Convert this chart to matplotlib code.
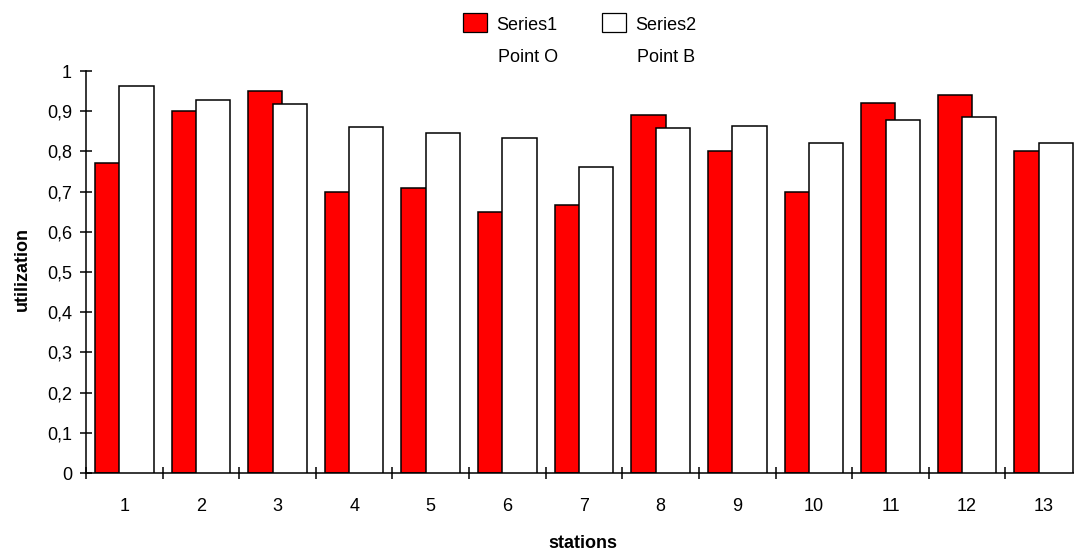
import numpy as np
import matplotlib
matplotlib.use("Agg")
import matplotlib.pyplot as plt
from matplotlib.patches import Rectangle

plt.rcParams['font.family'] = ['Liberation Sans', 'DejaVu Sans']

stations = [str(i) for i in range(1, 14)]
series1 = [0.77, 0.90, 0.95, 0.70, 0.71, 0.65, 0.667, 0.89, 0.80, 0.70, 0.92, 0.94, 0.80]
series2 = [0.963, 0.928, 0.917, 0.861, 0.847, 0.833, 0.761, 0.858, 0.864, 0.822, 0.879, 0.885, 0.820]
yticks = [0, 0.1, 0.2, 0.3, 0.4, 0.5, 0.6, 0.7, 0.8, 0.9, 1]

W, H = 1074, 552
fig = plt.figure(figsize=(W / 100, H / 100), dpi=100)
ax = fig.add_axes([86 / W, (H - 473) / H, (1082 - 86) / W, 402 / H])

x = np.arange(len(stations))
bw = 0.447
ax.bar(x - 0.383, series1, width=bw, align='edge', color='#ff0000',
       edgecolor='black', linewidth=1.1, zorder=2)
ax.bar(x + 0.383 - bw, series2, width=bw, align='edge', color='white',
       edgecolor='black', linewidth=1.1, zorder=3)

ax.set_xlim(-0.5, len(stations) - 0.5)
ax.set_ylim(0, 1)
ax.spines['top'].set_visible(False)
ax.spines['right'].set_visible(False)
for s in ('left', 'bottom'):
    ax.spines[s].set_linewidth(1.1)

ax.set_yticks(yticks)
ax.set_yticklabels([('%g' % v).replace('.', ',') for v in yticks])
ax.tick_params(axis='y', direction='inout', length=9, width=1.1, pad=5.5, labelsize=13)

ax.set_xticks(x)
ax.set_xticklabels(stations)
ax.set_xticks(np.arange(len(stations)) - 0.5, minor=True)
ax.tick_params(axis='x', which='major', length=0, pad=18, labelsize=13)
ax.tick_params(axis='x', which='minor', direction='inout', length=9, width=1.1)

fig.text(583 / W, 1 - 543 / H, 'stations', ha='center', va='center',
         fontsize=13, fontweight='bold')
fig.text(22 / W, 1 - 269 / H, 'utilization', ha='center', va='center',
         rotation=90, fontsize=13, fontweight='bold')

# legend
for x0, fc, name, sub in [(463, '#ff0000', 'Series1', 'Point O'),
                          (602, 'white', 'Series2', 'Point B')]:
    fig.add_artist(Rectangle((x0 / W, 1 - 32 / H), 24 / W, 19 / H,
                             transform=fig.transFigure, facecolor=fc,
                             edgecolor='black', linewidth=0.9))
    fig.text((x0 + 33) / W, 1 - 26 / H, name, ha='left', va='center', fontsize=13)
    fig.text((x0 + 35) / W, 1 - 58 / H, sub, ha='left', va='center', fontsize=13)

fig.savefig('out.png', dpi=100)
